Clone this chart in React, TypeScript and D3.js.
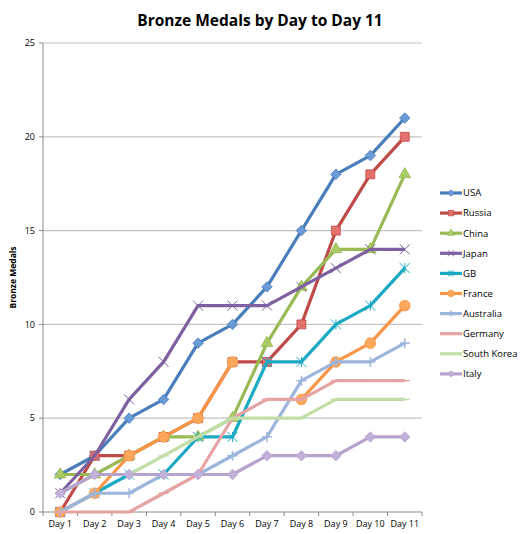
import React from "react";
import { scaleBand, scaleLinear, line, symbol, symbolSquare, symbolTriangle, symbolCircle } from "d3";

const days = ["Day 1", "Day 2", "Day 3", "Day 4", "Day 5", "Day 6", "Day 7", "Day 8", "Day 9", "Day 10", "Day 11"];
const yTicks = [0, 5, 10, 15, 20, 25];

const usa = [2, 3, 5, 6, 9, 10, 12, 15, 18, 19, 21];
const russia = [0, 3, 3, 4, 5, 8, 8, 10, 15, 18, 20];
const china = [2, 2, 3, 4, 4, 5, 9, 12, 14, 14, 18];
const japan = [1, 3, 6, 8, 11, 11, 11, 12, 13, 14, 14];
const gb = [0, 1, 2, 2, 4, 4, 8, 8, 10, 11, 13];
const france = [0, 1, 3, 4, 5, 8, null, 6, 8, 9, 11];
const australia = [0, 1, 1, 2, 2, 3, 4, 7, 8, 8, 9];
const germany = [0, 0, 0, 1, 2, 5, 6, 6, 7, 7, 7];
const southKorea = [1, 2, 2, 3, 4, 5, 5, 5, 6, 6, 6];
const italy = [1, 2, 2, 2, 2, 2, 3, 3, 3, 4, 4];

const series = [
  { name: "USA", values: usa, color: "#4A7EBB", fill: "#6B9BD6", marker: "diamond" },
  { name: "Russia", values: russia, color: "#BE4B48", fill: "#E5716E", marker: "square" },
  { name: "China", values: china, color: "#98B954", fill: "#A9CC63", marker: "triangle" },
  { name: "Japan", values: japan, color: "#7D60A0", fill: "#8E72B2", marker: "x" },
  { name: "GB", values: gb, color: "#1BA9C4", fill: "#46C0D8", marker: "star" },
  { name: "France", values: france, color: "#F79646", fill: "#FBA85C", marker: "circle" },
  { name: "Australia", values: australia, color: "#9DB4DB", fill: "#9DB4DB", marker: "plus" },
  { name: "Germany", values: germany, color: "#E6A3A3", fill: "#E6A3A3", marker: "dash" },
  { name: "South Korea", values: southKorea, color: "#C2DDA6", fill: "#C2DDA6", marker: "dash" },
  { name: "Italy", values: italy, color: "#B6A3CD", fill: "#C1B0D8", marker: "diamond" }
];

const width = 521;
const height = 534;
const margin = { top: 43, right: 99, bottom: 22, left: 43 };
const font = "'Open Sans', 'Liberation Sans', sans-serif";

function Marker({ kind, x, y, color, fill, s }: { kind: string; x: number; y: number; color: string; fill: string; s: number }) {
  const h = s / 2;
  if (kind === "diamond") {
    const d = h * 1.05;
    return (
      <path
        transform={`translate(${x},${y})`}
        d={`M0,${-d}L${d},0L0,${d}L${-d},0Z`}
        fill={fill}
        stroke={color}
        strokeWidth={0.8}
      />
    );
  }
  const shapes: Record<string, any> = { square: symbolSquare, triangle: symbolTriangle, circle: symbolCircle };
  if (shapes[kind]) {
    const area = kind === "circle" ? s * s * 0.9 : kind === "triangle" ? s * s * 0.6 : s * s * 0.8;
    return (
      <path
        transform={`translate(${x},${y})`}
        d={symbol(shapes[kind], area)()!}
        fill={fill}
        stroke={color}
        strokeWidth={0.8}
      />
    );
  }
  if (kind === "x" || kind === "star") {
    return (
      <g stroke={color} strokeWidth={1} transform={`translate(${x},${y})`}>
        <line x1={-h} y1={-h} x2={h} y2={h} />
        <line x1={-h} y1={h} x2={h} y2={-h} />
        {kind === "star" && <line x1={0} y1={-h} x2={0} y2={h} />}
      </g>
    );
  }
  if (kind === "plus") {
    return (
      <g stroke={color} strokeWidth={1.5} transform={`translate(${x},${y})`}>
        <line x1={-h} y1={0} x2={h} y2={0} />
        <line x1={0} y1={-h} x2={0} y2={h} />
      </g>
    );
  }
  return <line x1={x - h} x2={x + h} y1={y} y2={y} stroke={color} strokeWidth={1.5} />;
}

export default function App() {
  const x = scaleBand().domain(days).range([margin.left, width - margin.right]).padding(0);
  const y = scaleLinear().domain([0, 25]).range([height - margin.bottom, margin.top]);
  const cx = (d: string) => x(d)! + x.bandwidth() / 2;

  const path = line<number | null>()
    .defined((v) => v !== null)
    .x((_, i) => cx(days[i]))
    .y((v) => y(v as number));

  const x0 = margin.left;
  const x1 = width - margin.right;
  const yBase = y(0);

  return (
    <>
      <style>{`body{margin:0}`}</style>
      <svg width={width} height={height} style={{ display: "block", background: "#fff" }}>
        <text x={260} y={26} textAnchor="middle" fontFamily={font} fontWeight="bold" fontSize={15.5}>
          Bronze Medals by Day to Day 11
        </text>

        {/* grid */}
        {yTicks.filter((t) => t > 0).map((t) => (
          <line key={t} x1={x0} x2={x1} y1={y(t)} y2={y(t)} stroke="#C4C4C4" strokeWidth={1.2} />
        ))}

        {/* y axis */}
        <line x1={x0} x2={x0} y1={y(25)} y2={yBase} stroke="#8C8C8C" />
        {yTicks.map((t) => (
          <g key={t}>
            <line x1={x0 - 4} x2={x0} y1={y(t)} y2={y(t)} stroke="#8C8C8C" />
            <text x={x0 - 8} y={y(t)} dy="0.35em" textAnchor="end" fontFamily={font} fontSize={9}>
              {t}
            </text>
          </g>
        ))}
        <text
          transform={`translate(16,${(y(0) + y(25)) / 2}) rotate(-90)`}
          textAnchor="middle"
          fontFamily={font}
          fontWeight="bold"
          fontSize={8.5}
        >
          Bronze Medals
        </text>

        {/* x axis */}
        <line x1={x0} x2={x1} y1={yBase} y2={yBase} stroke="#8C8C8C" />
        {days.map((d) => (
          <line key={d} x1={x(d)!} x2={x(d)!} y1={yBase} y2={yBase + 4} stroke="#8C8C8C" />
        ))}
        <line x1={x1} x2={x1} y1={yBase} y2={yBase + 4} stroke="#8C8C8C" />
        {days.map((d) => (
          <text key={d} x={cx(d)} y={yBase + 15} textAnchor="middle" fontFamily={font} fontSize={9}>
            {d}
          </text>
        ))}

        {/* series */}
        {series.map((s) => (
          <g key={s.name}>
            <path d={path(s.values)!} fill="none" stroke={s.color} strokeWidth={3.2} strokeLinejoin="round" />
            {s.values.map((v, i) =>
              v === null ? null : (
                <Marker key={i} kind={s.marker} x={cx(days[i])} y={y(v)} color={s.color} fill={s.fill} s={10} />
              )
            )}
          </g>
        ))}

        {/* legend */}
        {series.map((s, i) => {
          const ly = 193 + i * 20.1;
          return (
            <g key={s.name}>
              <line x1={440} x2={462} y1={ly} y2={ly} stroke={s.color} strokeWidth={3.2} />
              <Marker kind={s.marker} x={451} y={ly} color={s.color} fill={s.fill} s={6} />
              <text x={463} y={ly} dy="0.35em" fontFamily={font} fontSize={9.5}>
                {s.name}
              </text>
            </g>
          );
        })}
      </svg>
    </>
  );
}
